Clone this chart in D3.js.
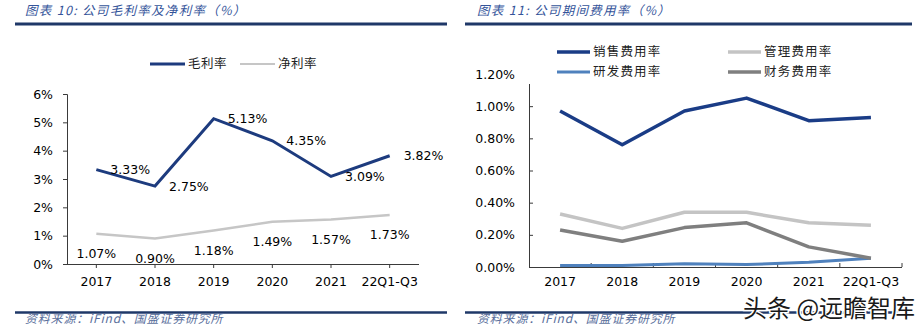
<!DOCTYPE html>
<html>
<head>
<meta charset="utf-8">
<script src="https://cdn.jsdelivr.net/npm/d3@7/dist/d3.min.js"></script>
<style>
  html, body { margin: 0; padding: 0; background: #fff; }
  svg { display: block; }
  .num { font-family: "DejaVu Sans", sans-serif; fill: #000; }
  .cjk { font-family: "Noto Sans CJK SC", sans-serif; }
</style>
</head>
<body>
<svg id="chart" width="923" height="332"></svg>
<script>
// ---- data ----
const categories = ["2017", "2018", "2019", "2020", "2021", "22Q1-Q3"];

// 图表10: 毛利率 / 净利率 (%)
const grossMargin = [3.33, 2.75, 5.13, 4.35, 3.09, 3.82];
const netMargin   = [1.07, 0.90, 1.18, 1.49, 1.57, 1.73];
const marginTicks = [0, 1, 2, 3, 4, 5, 6];

// 图表11: 期间费用率 (%)
const sellingRate = [0.97, 0.76, 0.97, 1.05, 0.91, 0.93];
const adminRate   = [0.33, 0.24, 0.34, 0.34, 0.275, 0.26];
const rdRate      = [0.01, 0.01, 0.02, 0.015, 0.03, 0.055];
const financeRate = [0.23, 0.16, 0.245, 0.275, 0.125, 0.055];
const expenseTicks = [0, 0.2, 0.4, 0.6, 0.8, 1.0, 1.2];

const svg = d3.select("#chart");
const NAVY = "#1d3b7e";
const TITLE = "#34549a";

// ---- frame: titles, rules, source notes ----
function frame(x0, x1, titleX, title) {
  svg.append("text").attr("class", "cjk")
    .attr("x", titleX).attr("y", 15)
    .attr("font-size", 12.5).attr("font-style", "italic")
    .attr("letter-spacing", 1.3)
    .attr("fill", TITLE).text(title);
  svg.append("line").attr("x1", x0).attr("x2", x1).attr("y1", 24).attr("y2", 24)
    .attr("stroke", "#1f3868").attr("stroke-width", 3);
  svg.append("line").attr("x1", x0).attr("x2", x1).attr("y1", 312.5).attr("y2", 312.5)
    .attr("stroke", "#1f3868").attr("stroke-width", 2.5);
  svg.append("text").attr("class", "cjk")
    .attr("x", titleX).attr("y", 323)
    .attr("font-size", 12).attr("font-style", "italic")
    .attr("letter-spacing", 0.8)
    .attr("fill", "#5a6f9c").text("资料来源：iFind、国盛证券研究所");
}
frame(15, 447, 25, "图表 10:  公司毛利率及净利率（%）");
frame(465, 912, 477, "图表 11:  公司期间费用率（%）");

// ---- left chart: margins ----
{
  const x = d3.scaleBand().domain(categories).range([67, 419]);
  const y = d3.scaleLinear().domain([0, 6]).range([264, 94]);
  const g = svg.append("g");

  const ya = g.append("g").attr("transform", "translate(67,0)")
    .call(d3.axisLeft(y).tickValues(marginTicks).tickSize(4).tickPadding(10)
      .tickFormat(d => d + "%"));
  const xa = g.append("g").attr("transform", "translate(0,264)")
    .call(d3.axisBottom(x).tickSize(4).tickPadding(9).tickSizeOuter(0));
  [ya, xa].forEach(a => {
    a.selectAll("path, line").attr("stroke", "#3a3a3a");
    a.selectAll("text").attr("class", "num").attr("font-size", 12.5).attr("fill", "#000");
  });
  xa.select(".domain").attr("d", "M67,0.5H419");

  const cx = c => x(c) + x.bandwidth() / 2;
  const line = d3.line().x((d, i) => cx(categories[i])).y(d => y(d));

  g.append("path").datum(netMargin).attr("d", line)
    .attr("fill", "none").attr("stroke", "#c6c6c6").attr("stroke-width", 2.5);
  g.append("path").datum(grossMargin).attr("d", line)
    .attr("fill", "none").attr("stroke", NAVY).attr("stroke-width", 3)
    .attr("stroke-linejoin", "miter");

  g.selectAll(".gl").data(grossMargin).join("text")
    .attr("class", "num").attr("font-size", 12.5)
    .attr("x", (d, i) => cx(categories[i]) + 14)
    .attr("y", d => y(d)).attr("dy", "0.36em")
    .text(d => d.toFixed(2) + "%");
  g.selectAll(".nl").data(netMargin).join("text")
    .attr("class", "num").attr("font-size", 12.5)
    .attr("text-anchor", "middle")
    .attr("x", (d, i) => cx(categories[i]))
    .attr("y", d => y(d) + 20).attr("dy", "0.36em")
    .text(d => d.toFixed(2) + "%");

  // legend
  const lg = g.append("g");
  const items = [
    { name: "毛利率", color: NAVY, w: 3, x: 150 },
    { name: "净利率", color: "#c6c6c6", w: 2, x: 240 }
  ];
  items.forEach(it => {
    lg.append("line").attr("x1", it.x).attr("x2", it.x + 35).attr("y1", 64).attr("y2", 64)
      .attr("stroke", it.color).attr("stroke-width", it.w);
    lg.append("text").attr("class", "cjk").attr("x", it.x + 38).attr("y", 64).attr("dy", "0.35em")
      .attr("font-size", 12.5).attr("letter-spacing", 0.5).attr("fill", "#222").text(it.name);
  });
}

// ---- right chart: expense ratios ----
{
  const x = d3.scaleBand().domain(categories).range([529, 902]);
  const y = d3.scaleLinear().domain([0, 1.2]).range([267, 74]);
  const g = svg.append("g");

  const ya = g.append("g").attr("transform", "translate(529,0)")
    .call(d3.axisLeft(y).tickValues(expenseTicks).tickSize(-4).tickPadding(14)
      .tickFormat(d => d.toFixed(2) + "%"));
  const xa = g.append("g").attr("transform", "translate(0,267)")
    .call(d3.axisBottom(x).tickSize(0).tickPadding(10));
  [ya, xa].forEach(a => {
    a.selectAll("path, line").attr("stroke", "#3a3a3a");
    a.selectAll("text").attr("class", "num").attr("font-size", 12.5).attr("fill", "#000");
  });
  xa.select(".domain").attr("d", "M529,0.5H902");
  // ticks between categories, pointing into the plot
  const bounds = categories.map(c => x(c) + x.step());
  xa.selectAll(".bt").data(bounds).join("line")
    .attr("x1", d => d).attr("x2", d => d).attr("y1", 0).attr("y2", -4)
    .attr("stroke", "#3a3a3a");

  const cx = c => x(c) + x.bandwidth() / 2;
  const line = d3.line().x((d, i) => cx(categories[i])).y(d => y(d));
  const series = [
    { name: "销售费用率", values: sellingRate, color: "#1a3c86", w: 3.5 },
    { name: "管理费用率", values: adminRate,   color: "#c4c4c4", w: 3.5 },
    { name: "研发费用率", values: rdRate,      color: "#4f81bd", w: 3 },
    { name: "财务费用率", values: financeRate, color: "#7f7f7f", w: 3.5 }
  ];
  series.forEach(s => {
    g.append("path").datum(s.values).attr("d", line)
      .attr("fill", "none").attr("stroke", s.color).attr("stroke-width", s.w)
      .attr("stroke-linejoin", "round");
  });

  // legend box sits over the top of the plot area
  const lg = g.append("g");
  lg.append("rect").attr("x", 524).attr("y", 38).attr("width", 380).attr("height", 46)
    .attr("fill", "#fff");
  series.forEach((s, i) => {
    const lx = i % 2 === 0 ? 557 : 728;
    const ly = i < 2 ? 52 : 72;
    lg.append("line").attr("x1", lx).attr("x2", lx + 33).attr("y1", ly).attr("y2", ly)
      .attr("stroke", s.color).attr("stroke-width", s.w);
    lg.append("text").attr("class", "cjk").attr("x", lx + 36).attr("y", ly).attr("dy", "0.35em")
      .attr("font-size", 12.5).attr("letter-spacing", 1.2).attr("fill", "#222").text(s.name);
  });
}

// ---- account mark ----
svg.append("text").attr("class", "cjk")
  .attr("x", 743).attr("y", 317)
  .attr("font-size", 24).attr("fill", "#1a1a1a")
  .attr("stroke", "#fff").attr("stroke-width", 3).attr("paint-order", "stroke")
  .text("头条 @远瞻智库");
</script>
</body>
</html>
